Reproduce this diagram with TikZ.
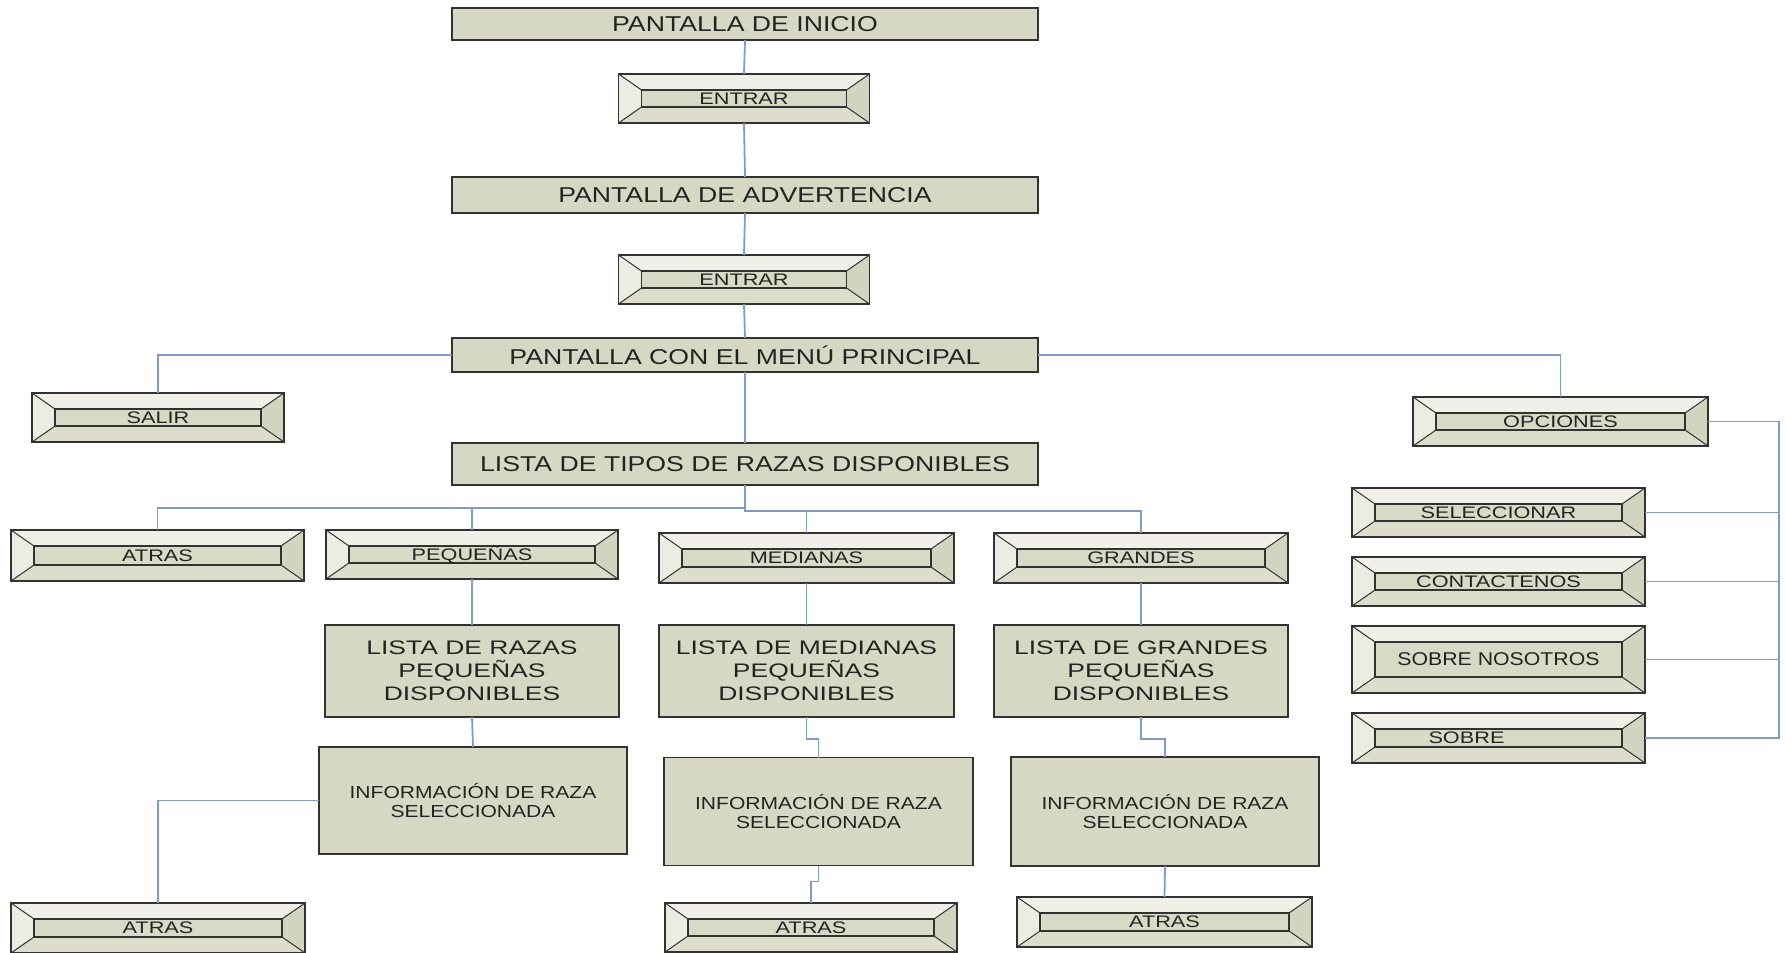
\documentclass[tikz,border=0pt]{standalone}
\usepackage{fontspec}
\setmainfont{Liberation Sans}
\newfontfamily\headfont[FakeStretch=1.24]{Liberation Sans}
\newfontfamily\btnfont[FakeStretch=1.3]{Liberation Sans}
\newfontfamily\listfont[FakeStretch=1.35]{Liberation Sans}
\newfontfamily\infofont[FakeStretch=1.21]{Liberation Sans}
\newfontfamily\sobrefont[FakeStretch=1.15]{Liberation Sans}
\usetikzlibrary{calc}
\definecolor{edge}{RGB}{50,50,50}
\definecolor{txt}{RGB}{35,35,35}
\definecolor{plainfill}{RGB}{215,216,196}
\definecolor{face}{RGB}{217,218,198}
\definecolor{bvtop}{RGB}{240,240,232}
\definecolor{bvleft}{RGB}{236,237,226}
\definecolor{bvright}{RGB}{210,212,192}
\definecolor{bvbottom}{RGB}{220,221,203}
\definecolor{linec}{RGB}{128,156,198}
\begin{document}
\begin{tikzpicture}[x=1pt,y=-1pt,
  plainbox/.style={draw=edge, line width=1.5pt, fill=plainfill, inner sep=0pt, outer sep=0pt, text=txt, align=center},
  head/.style={plainbox, font=\headfont\fontsize{21.5}{24}\selectfont},
  lista/.style={plainbox, font=\listfont\fontsize{19.6}{23}\selectfont},
  info/.style={plainbox, font=\infofont\fontsize{17.4}{18.5}\selectfont},
  btn/.style={draw=edge, line width=1.5pt, fill=face, inner sep=0pt, outer sep=0pt, text=txt,
    font=\btnfont\fontsize{16.7}{18}\selectfont,
    path picture={
      \coordinate (o1) at (path picture bounding box.north west);
      \coordinate (o2) at (path picture bounding box.north east);
      \coordinate (o3) at (path picture bounding box.south east);
      \coordinate (o4) at (path picture bounding box.south west);
      \coordinate (i1) at ($(o1)+(23,16)$);
      \coordinate (i2) at ($(o2)+(-23,16)$);
      \coordinate (i3) at ($(o3)+(-23,-16)$);
      \coordinate (i4) at ($(o4)+(23,-16)$);
      \fill[bvtop] (o1)--(o2)--(i2)--(i1)--cycle;
      \fill[bvleft] (o1)--(i1)--(i4)--(o4)--cycle;
      \fill[bvright] (o2)--(o3)--(i3)--(i2)--cycle;
      \fill[bvbottom] (o4)--(i4)--(i3)--(o3)--cycle;
      \draw[edge, line width=1pt] (o1)--(i1) (o2)--(i2) (o3)--(i3) (o4)--(i4);
      \draw[edge, line width=1.2pt] (i1) rectangle (i3);
    }},
  conn/.style={draw=linec, line width=1.8pt}
]
\useasboundingbox[fill=white] (0,0) rectangle (1786,953);

% central column
\node[head, minimum width=586pt, minimum height=32pt] (inicio) at (745,24) {PANTALLA DE INICIO};
\node[btn, minimum width=251pt, minimum height=49pt] (entrar1) at (744,98.5) {ENTRAR};
\node[head, minimum width=586pt, minimum height=36pt] (advert) at (745,195) {PANTALLA DE ADVERTENCIA};
\node[btn, minimum width=251pt, minimum height=49pt] (entrar2) at (744,279.5) {ENTRAR};
\node[head, minimum width=586pt, minimum height=34pt] (menu) at (745,355) {PANTALLA CON EL MENÚ PRINCIPAL};
\node[btn, minimum width=252pt, minimum height=49pt] (salir) at (158,417.5) {SALIR};
\node[btn, minimum width=295pt, minimum height=49pt] (opciones) at (1560.5,421.5) {OPCIONES};
\node[head, minimum width=586pt, minimum height=42pt] (tipos) at (745,464) {LISTA DE TIPOS DE RAZAS DISPONIBLES};

% second level
\node[btn, minimum width=293pt, minimum height=51pt] (atrasA) at (157.5,555.5) {ATRAS};
\node[btn, minimum width=292pt, minimum height=49pt] (pequenas) at (472,554.5) {PEQUEÑAS};
\node[btn, minimum width=295pt, minimum height=50pt] (medianas) at (806.5,558) {MEDIANAS};
\node[btn, minimum width=294pt, minimum height=50pt] (grandes) at (1141,558) {GRANDES};

\node[lista, minimum width=294pt, minimum height=92pt] (listaP) at (472,671) {LISTA DE RAZAS\\PEQUEÑAS\\DISPONIBLES};
\node[lista, minimum width=295pt, minimum height=92pt] (listaM) at (806.5,671) {LISTA DE MEDIANAS\\PEQUEÑAS\\DISPONIBLES};
\node[lista, minimum width=294pt, minimum height=92pt] (listaG) at (1141,671) {LISTA DE GRANDES\\PEQUEÑAS\\DISPONIBLES};

\node[info, minimum width=308pt, minimum height=107pt] (info1) at (473,800.5) {INFORMACIÓN DE RAZA\\SELECCIONADA};
\node[info, minimum width=309pt, minimum height=108pt] (info2) at (818.5,811.5) {INFORMACIÓN DE RAZA\\SELECCIONADA};
\node[info, minimum width=308pt, minimum height=109pt] (info3) at (1165,811.5) {INFORMACIÓN DE RAZA\\SELECCIONADA};

\node[btn, minimum width=294pt, minimum height=50pt] (atras1) at (158,928) {ATRAS};
\node[btn, minimum width=292pt, minimum height=49pt] (atras2) at (811,927.5) {ATRAS};
\node[btn, minimum width=295pt, minimum height=50pt] (atras3) at (1164.5,922) {ATRAS};

% options column
\node[btn, minimum width=293pt, minimum height=49pt] (selecc) at (1498.5,512.5) {SELECCIONAR};
\node[btn, minimum width=293pt, minimum height=49pt] (contact) at (1498.5,581.5) {CONTACTENOS};
\node[btn, minimum width=293pt, minimum height=67pt, font=\sobrefont\fontsize{18.5}{20}\selectfont] (sobrenos) at (1498.5,659.5) {SOBRE NOSOTROS};
\node[btn, minimum width=293pt, minimum height=50pt] (sobre) at (1498.5,738) {SOBRE\hspace*{64pt}};

% connectors
\draw[conn] (inicio.south) -- (entrar1.north);
\draw[conn] (entrar1.south) -- (advert.north);
\draw[conn] (advert.south) -- (entrar2.north);
\draw[conn] (entrar2.south) -- (menu.north);
\draw[conn] (menu.south) -- (tipos.north);
\draw[conn] (menu.west) -| (salir.north);
\draw[conn] (menu.east) -| (opciones.north);

\draw[conn] (tipos.south) -- ++(0,23) coordinate (busL) -| (atrasA.north);
\draw[conn] (busL) -| (pequenas.north);
\draw[conn] (tipos.south) -- ++(0,26) coordinate (busR) -| (grandes.north);
\draw[conn] (busR) -| (medianas.north);

\draw[conn] (pequenas.south) -- (listaP.north);
\draw[conn] (listaP.south) -- (info1.north);
\draw[conn] (info1.west) -| (atras1.north);

\draw[conn] (medianas.south) -- (listaM.north);
\draw[conn] (listaM.south) -- ++(0,22) -| (info2.north);
\draw[conn] (info2.south) -- ++(0,16) -| (atras2.north);

\draw[conn] (grandes.south) -- (listaG.north);
\draw[conn] (listaG.south) -- ++(0,22) -| (info3.north);
\draw[conn] (info3.south) -- (atras3.north);

\coordinate (rx) at (1779,421.5);
\draw[conn] (opciones.east) -- (opciones.east -| rx) -- (sobre.east -| rx) -- (sobre.east);
\draw[conn] (selecc.east) -- (selecc.east -| rx);
\draw[conn] (contact.east) -- (contact.east -| rx);
\draw[conn] (sobrenos.east) -- (sobrenos.east -| rx);
\end{tikzpicture}
\end{document}
